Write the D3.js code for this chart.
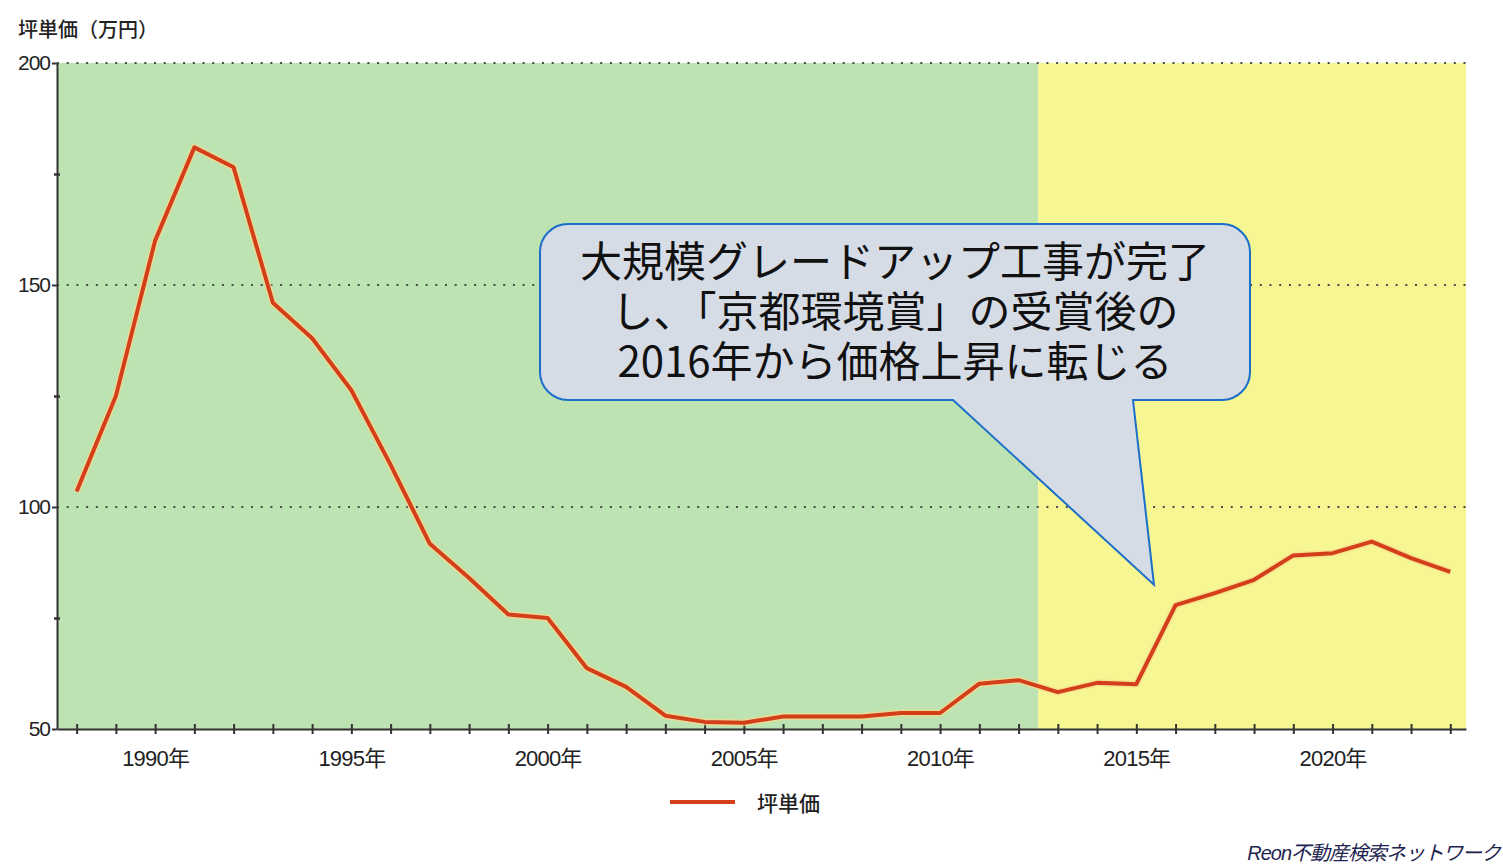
<!DOCTYPE html>
<html>
<head>
<meta charset="utf-8">
<script src="https://cdn.jsdelivr.net/npm/d3@7"></script>
<style>
body { margin: 0; background: #fff; }
svg { display: block; }
</style>
</head>
<body>
<div id="canvas"></div>
<script>
// data
const years = [1988, 1989, 1990, 1991, 1992, 1993, 1994, 1995, 1996, 1997,
    1998, 1999, 2000, 2001, 2002, 2003, 2004, 2005, 2006, 2007,
    2008, 2009, 2010, 2011, 2012, 2013, 2014, 2015, 2016, 2017,
    2018, 2019, 2020, 2021, 2022, 2023];
const prices = [103.5, 125, 160, 181, 176.5, 146, 138, 126.3, 109.5, 91.7,
    84, 75.8, 75, 63.7, 59.5, 53, 51.6, 51.4, 52.8, 52.8,
    52.8, 53.6, 53.6, 60.2, 61, 58.3, 60.4, 60.1, 77.9, 80.6,
    83.6, 89.1, 89.6, 92.2, 88.5, 85.4];
const yTicks = [50, 100, 150, 200];
const yMinorTicks = [75, 125, 175];
const xLabelYears = [1990, 1995, 2000, 2005, 2010, 2015, 2020];
const periodBreaks = [1987.5, 2012.5, 2023.4];
const seriesName = "坪単価";
const yTitle = "坪単価（万円）";
const calloutLines = ["大規模グレードアップ工事が完了", "し、「京都環境賞」の受賞後の", "2016年から価格上昇に転じる"];
const credit = "Reon不動産検索ネットワーク";

const width = 1503;
const height = 865;
const margin = { top: 63, left: 57, bottom: 136, right: 37 };
const numFont = "'Liberation Sans', Arial, 'Noto Sans CJK JP', sans-serif";
const jpFont = "'Noto Sans CJK JP', sans-serif";

const svg = d3.select("#canvas").append("svg")
    .attr("width", width)
    .attr("height", height);

const x = d3.scaleLinear()
    .domain([periodBreaks[0], periodBreaks[2]])
    .range([margin.left, width - margin.right]);
const y = d3.scaleLinear()
    .domain([50, 200])
    .range([height - margin.bottom, margin.top]);

// background bands
const bandColors = ["#bce3b1", "#f6f793"];
svg.append("g").selectAll("rect")
    .data(d3.pairs(periodBreaks))
    .enter().append("rect")
    .attr("x", d => x(d[0]))
    .attr("y", y(200))
    .attr("width", d => x(d[1]) - x(d[0]))
    .attr("height", y(50) - y(200))
    .attr("fill", (d, i) => bandColors[i]);

// dotted grid
svg.append("g").selectAll("line")
    .data(yTicks.filter(d => d > 50))
    .enter().append("line")
    .attr("x1", x.range()[0])
    .attr("x2", x.range()[1])
    .attr("y1", d => y(d))
    .attr("y2", d => y(d))
    .attr("stroke", "#4a4a4a")
    .attr("stroke-width", 2)
    .attr("stroke-dasharray", "2,7.7");

// y axis
const yAxis = svg.append("g")
    .attr("transform", `translate(${margin.left},0)`)
    .call(d3.axisLeft(y).tickValues(yTicks).tickSize(5).tickSizeOuter(0).tickPadding(2));
yAxis.select(".domain").attr("stroke", "#333").attr("stroke-width", 2);
yAxis.selectAll(".tick line").attr("stroke", "#333").attr("stroke-width", 2);
yAxis.selectAll("text")
    .style("font-family", numFont)
    .style("font-size", "21px")
    .style("letter-spacing", "-1px")
    .attr("fill", "#222");

const yMinor = svg.append("g")
    .attr("transform", `translate(${margin.left},0)`)
    .call(d3.axisLeft(y).tickValues(yMinorTicks).tickSize(3).tickFormat(""));
yMinor.select(".domain").remove();
yMinor.selectAll(".tick line").attr("x2", 3).attr("x1", -3).attr("stroke", "#333").attr("stroke-width", 2.5);

// x axis
const xAxis = svg.append("g")
    .attr("transform", `translate(0,${y(50)})`)
    .call(d3.axisBottom(x)
        .tickValues(years)
        .tickSize(5)
        .tickSizeOuter(0)
        .tickPadding(16)
        .tickFormat(d => xLabelYears.includes(d) ? d + "年" : ""));
xAxis.select(".domain").attr("stroke", "#333").attr("stroke-width", 2);
xAxis.selectAll(".tick line").attr("y1", -5).attr("stroke", "#333").attr("stroke-width", 2);
xAxis.selectAll("text")
    .style("font-family", numFont)
    .style("font-size", "22px")
    .style("letter-spacing", "-0.8px")
    .attr("fill", "#222");

// axis title
svg.append("text")
    .attr("x", 18)
    .attr("y", 28)
    .attr("dominant-baseline", "central")
    .style("font-family", jpFont)
    .style("font-size", "20px")
    .style("font-weight", 500)
    .attr("fill", "#222")
    .text(yTitle);

// price line
const line = d3.line()
    .x((d, i) => x(years[i]))
    .y(d => y(d));
svg.append("path")
    .datum(prices)
    .attr("d", line)
    .attr("fill", "none")
    .attr("stroke", "#fbd98a")
    .attr("stroke-width", 7)
    .attr("stroke-linejoin", "round")
    .attr("opacity", 0.7);
svg.append("path")
    .datum(prices)
    .attr("d", line)
    .attr("fill", "none")
    .attr("stroke", "#d33f1b")
    .attr("stroke-width", 4)
    .attr("stroke-linejoin", "round");

// legend
const legend = svg.append("g").attr("transform", "translate(670,802)");
legend.append("line")
    .attr("x1", 0).attr("x2", 65)
    .attr("stroke", "#d33f1b")
    .attr("stroke-width", 4);
legend.append("text")
    .attr("x", 87)
    .attr("dominant-baseline", "central")
    .style("font-family", jpFont)
    .style("font-size", "21px")
    .style("font-weight", 500)
    .attr("fill", "#222")
    .text(seriesName);

// callout
const box = { x0: 540, y0: 224, x1: 1250, y1: 400, r: 28 };
const tip = [x(2015.45), y(82.5)];
const r = box.r;
const calloutPath = `M${box.x0 + r},${box.y0} H${box.x1 - r} A${r},${r} 0 0 1 ${box.x1},${box.y0 + r}
 V${box.y1 - r} A${r},${r} 0 0 1 ${box.x1 - r},${box.y1} H1133 L${tip[0]},${tip[1]} L953,${box.y1}
 H${box.x0 + r} A${r},${r} 0 0 1 ${box.x0},${box.y1 - r} V${box.y0 + r} A${r},${r} 0 0 1 ${box.x0 + r},${box.y0} Z`;
svg.append("path")
    .attr("d", calloutPath)
    .attr("fill", "#d5dce6")
    .attr("stroke", "#1b6fc8")
    .attr("stroke-width", 2);
const calloutText = svg.append("text")
    .attr("text-anchor", "middle")
    .style("font-family", jpFont)
    .style("font-size", "42px")
    .attr("fill", "#111");
calloutText.selectAll("tspan")
    .data(calloutLines)
    .enter().append("tspan")
    .attr("x", 895)
    .attr("y", (d, i) => 277 + i * 50)
    .text(d => d);

// credit
svg.append("text")
    .attr("x", 1500)
    .attr("y", 853)
    .attr("text-anchor", "end")
    .attr("dominant-baseline", "central")
    .style("font-family", numFont)
    .style("font-size", "20px")
    .style("font-style", "italic")
    .style("letter-spacing", "-1px")
    .attr("fill", "#1e2350")
    .text(credit);
</script>
</body>
</html>
